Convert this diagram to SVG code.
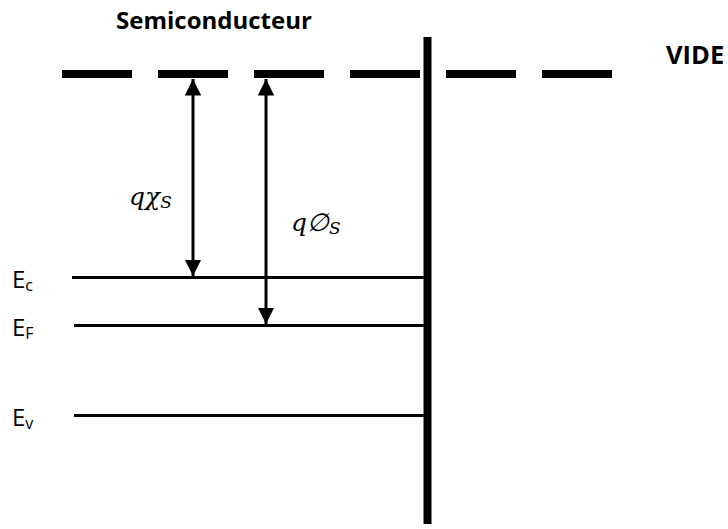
<svg xmlns="http://www.w3.org/2000/svg" width="728" height="529" viewBox="0 0 728 529">
<style>
.lvl{stroke:#000;stroke-width:3;fill:none}
.arr{stroke:#000;stroke-width:3;fill:none}
.lbl{font-family:"Open Sans","Liberation Sans",sans-serif;font-size:24px;fill:#000}
.sub{font-size:16px}
.bold{font-family:"Open Sans","Liberation Sans",sans-serif;font-weight:bold;font-size:24px;fill:#000}
.math{font-family:"DejaVu Serif","Liberation Serif",serif;font-style:italic;font-size:25px;fill:#000}
.msub{font-size:17px}
</style>
<defs>
<marker id="ah" viewBox="0 0 10 10" refX="10" refY="5" markerWidth="5.5" markerHeight="5.5" orient="auto-start-reverse" markerUnits="strokeWidth">
<path d="M0,0 L10,5 L0,10 Z" fill="#000"/>
</marker>
</defs>
<g id="vide-line">
<line x1="62" y1="74" x2="612" y2="74" stroke="#000" stroke-width="8" stroke-dasharray="70 26"/>
</g>
<g id="interface">
<line x1="427.5" y1="37" x2="427.5" y2="524" stroke="#000" stroke-width="8"/>
</g>
<g id="Ec"><line class="lvl" x1="72" y1="277.5" x2="427" y2="277.5"/>
<text class="lbl" x="12" y="288">E<tspan class="sub" dy="3">c</tspan></text></g>
<g id="EF"><line class="lvl" x1="74" y1="325.5" x2="427" y2="325.5"/>
<text class="lbl" x="12" y="336">E<tspan class="sub" dy="3">F</tspan></text></g>
<g id="Ev"><line class="lvl" x1="74" y1="415.5" x2="427" y2="415.5"/>
<text class="lbl" x="12" y="426">E<tspan class="sub" dy="3">v</tspan></text></g>
<g id="title"><text class="bold" x="116" y="29">Semiconducteur</text></g>
<g id="vide"><text class="bold" x="666" y="64" style="font-size:25.5px">VIDE</text></g>
<g id="connectors">
<line class="arr" x1="193" y1="79" x2="193" y2="276" marker-start="url(#ah)" marker-end="url(#ah)"/>
<line class="arr" x1="266" y1="79" x2="266" y2="324" marker-start="url(#ah)" marker-end="url(#ah)"/>
</g>
<g id="chi-label"><text class="math" x="129" y="205">qχ<tspan class="msub" dy="3">S</tspan></text></g>
<g id="phi-label"><text class="math" x="291" y="231">q∅<tspan class="msub" dy="3">S</tspan></text></g>
</svg>
